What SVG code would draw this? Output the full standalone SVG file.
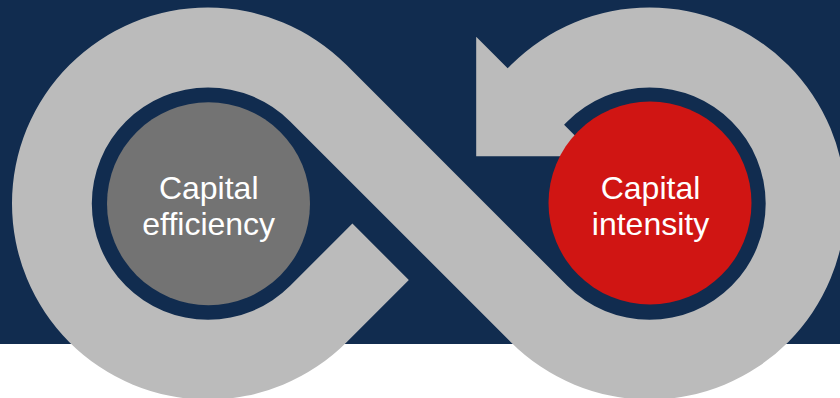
<svg xmlns="http://www.w3.org/2000/svg" width="840" height="398" viewBox="0 0 840 398">
  <style>
    .bg { fill: #112C4F; }
    .band { fill: #BBBBBB; }
    .label { fill: #FFFFFF; font-family: "Liberation Sans", Arial, sans-serif; font-size: 32px; text-anchor: middle; }
  </style>
  <rect x="0" y="0" width="840" height="398" fill="#FFFFFF"/>
  <rect class="bg" x="0" y="0" width="840" height="344"/>
  <g id="connectors">
    <path class="band" d="M 476.19 156.15 L 476.19 36.79 L 507.65 68.26 L 510.91 65.01 A 196 196 0 1 1 510.91 342.19 L 290.17 121.43 A 116.2 116.2 0 1 0 290.17 285.77 L 352.40 223.54 L 408.82 279.96 L 346.59 342.19 A 196 196 0 1 1 346.59 65.01 L 567.33 285.77 A 116.2 116.2 0 1 0 567.33 121.43 L 564.08 124.69 L 595.55 156.15 Z"/>
  </g>
  <g id="capital-efficiency">
    <circle cx="208.5" cy="203.7" r="101.5" fill="#737373"/>
    <text class="label" x="208.7" y="198.5">Capital</text>
    <text class="label" x="208.7" y="234.5">efficiency</text>
  </g>
  <g id="capital-intensity">
    <circle cx="650" cy="203" r="101.5" fill="#D01513"/>
    <text class="label" x="650.5" y="198.5">Capital</text>
    <text class="label" x="650.5" y="234.5">intensity</text>
  </g>
</svg>
